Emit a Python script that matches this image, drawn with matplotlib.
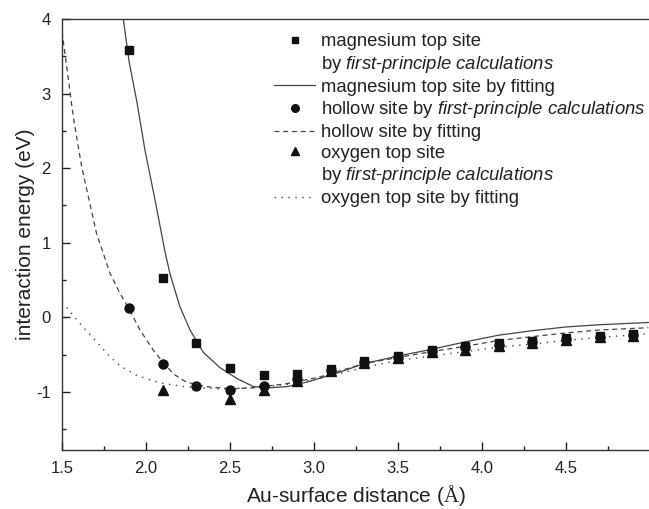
import numpy as np
import matplotlib
matplotlib.use("Agg")
import matplotlib.pyplot as plt
from matplotlib.lines import Line2D
from matplotlib.ticker import MultipleLocator

plt.rcParams["font.family"] = ["Liberation Sans", "DejaVu Sans"]
plt.rcParams["mathtext.fontset"] = "custom"
plt.rcParams["mathtext.it"] = "Liberation Sans:italic"
plt.rcParams["mathtext.rm"] = "Liberation Serif"
plt.rcParams["axes.unicode_minus"] = False

# ---- first-principle points (eV) ----
dist = [1.9, 2.1, 2.3, 2.5, 2.7, 2.9, 3.1, 3.3, 3.5, 3.7, 3.9, 4.1, 4.3, 4.5, 4.7, 4.9]
mg_top = [3.58, 0.52, -0.34, -0.675, -0.77, -0.76, -0.69, -0.59, -0.52, -0.44,
          -0.38, -0.35, -0.32, -0.28, -0.255, -0.23]
hollow = [0.125, -0.62, -0.92, -0.97, -0.92, -0.83, -0.71, -0.60, -0.53, -0.45,
          -0.40, -0.37, -0.33, -0.29, -0.26, -0.24]
dist_o = [2.1, 2.5, 2.7, 2.9, 3.1, 3.3, 3.5, 3.7, 3.9, 4.1, 4.3, 4.5, 4.7, 4.9]
o_top = [-0.97, -1.10, -0.98, -0.85, -0.72, -0.61, -0.54, -0.47, -0.44, -0.39,
         -0.35, -0.30, -0.27, -0.25]

# ---- fitted curves ----
mg_fit_x = [1.86, 1.865, 1.90, 1.944, 1.994, 2.054, 2.113, 2.143, 2.202, 2.262, 2.341,
            2.44, 2.54, 2.64, 2.738, 2.84, 2.957, 3.135, 3.30, 3.50, 3.70, 3.90,
            4.10, 4.30, 4.50, 4.70, 4.99]
mg_fit_y = [4.10, 4.00, 3.42, 2.91, 2.24, 1.57, 0.88, 0.58, 0.14, -0.17, -0.47,
            -0.675, -0.82, -0.93, -0.945, -0.93, -0.87, -0.75, -0.62, -0.52, -0.43, -0.33,
            -0.24, -0.18, -0.13, -0.10, -0.07]
hol_fit_x = [1.50, 1.528, 1.567, 1.617, 1.706, 1.786, 1.845, 1.895, 1.964, 2.043, 2.10,
             2.163, 2.24, 2.36, 2.50, 2.64, 2.84, 3.036, 3.30, 3.50, 3.70, 3.90,
             4.10, 4.30, 4.50, 4.70, 4.99]
hol_fit_y = [3.83, 3.36, 2.69, 2.02, 1.12, 0.59, 0.32, 0.13, -0.17, -0.44, -0.60,
             -0.76, -0.87, -0.93, -0.96, -0.945, -0.89, -0.80, -0.62, -0.54, -0.46, -0.39,
             -0.31, -0.26, -0.21, -0.17, -0.14]
o_fit_x = [1.50, 1.518, 1.557, 1.607, 1.657, 1.686, 1.786, 1.845, 1.944, 2.083, 2.24,
           2.44, 2.64, 2.84, 3.036, 3.30, 3.50, 3.70, 3.90, 4.10, 4.30, 4.50, 4.70, 4.99]
o_fit_y = [0.20, 0.16, 0.05, -0.085, -0.21, -0.28, -0.53, -0.65, -0.78, -0.88, -0.935,
           -0.96, -0.945, -0.90, -0.82, -0.67, -0.58, -0.52, -0.46, -0.40, -0.36, -0.31,
           -0.27, -0.22]

fp = r"by $\mathit{first}$-$\mathit{principle\ calculations}$"
labels = ["magnesium top site", fp, "magnesium top site by fitting",
          "hollow site " + fp, "hollow site by fitting",
          "oxygen top site", fp, "oxygen top site by fitting"]

W, H = 649, 509
fig = plt.figure(figsize=(W / 100, H / 100), dpi=100)
ax = fig.add_axes([62 / W, 59 / H, 1 - 62 / W, (450 - 19) / H])

pc = "#111111"; lc = "#444444"
ax.plot(mg_fit_x, mg_fit_y, color=lc, lw=0.9, ls="-")
ax.plot(hol_fit_x, hol_fit_y, color=lc, lw=0.9, ls=(0, (4, 3)))
ax.plot(o_fit_x, o_fit_y, color=lc, lw=1.0, ls=(0, (1, 4)))
ax.plot(dist, mg_top, ls="none", marker="s", ms=6, color=pc)
ax.plot(dist, hollow, ls="none", marker="o", ms=6.5, color=pc)
ax.plot(dist_o, o_top, ls="none", marker="^", ms=7, color=pc)

ax.set_xlim(1.5, 4.994)
ax.set_ylim(-1.78, 4)
ax.xaxis.set_minor_locator(MultipleLocator(0.25))
ax.yaxis.set_major_locator(MultipleLocator(1))
ax.yaxis.set_minor_locator(MultipleLocator(0.5))
ax.set_xticks([1.5, 2.0, 2.5, 3.0, 3.5, 4.0, 4.5])
ax.tick_params(which="both", direction="in", colors="#222222", labelsize=12, width=1)
ax.tick_params(which="major", length=6, pad=8)
ax.tick_params(which="minor", length=3)
ax.spines["right"].set_visible(False)
for s in ["left", "bottom", "top"]:
    ax.spines[s].set_color("#333333")
    ax.spines[s].set_linewidth(1.0)

ax.set_xlabel(r"Au-surface distance ($\mathrm{Å}$)", fontsize=15, color="#222222", labelpad=5)
ax.set_ylabel("interaction energy (eV)", fontsize=15, color="#222222", labelpad=1)

blank = Line2D([], [], ls="none", marker="none")
handles = [
    Line2D([], [], ls="none", marker="s", ms=5, color=pc), blank,
    Line2D([], [], ls="-", color=lc, lw=0.9),
    Line2D([], [], ls="none", marker="o", ms=5.5, color=pc),
    Line2D([], [], ls=(0, (4, 3)), color=lc, lw=0.9),
    Line2D([], [], ls="none", marker="^", ms=6, color=pc), blank,
    Line2D([], [], ls=(0, (1, 4)), color=lc, lw=1.0),
]
leg = ax.legend(handles, labels, loc="upper left", bbox_to_anchor=(265 / W, 1 - 24 / H),
                bbox_transform=fig.transFigure, frameon=False, fontsize=13.3,
                handlelength=2.2, handletextpad=0.35, labelspacing=0.2, borderpad=0,
                numpoints=1)
for t in leg.get_texts():
    t.set_color("#222222")

fig.savefig("out.png", dpi=100)
